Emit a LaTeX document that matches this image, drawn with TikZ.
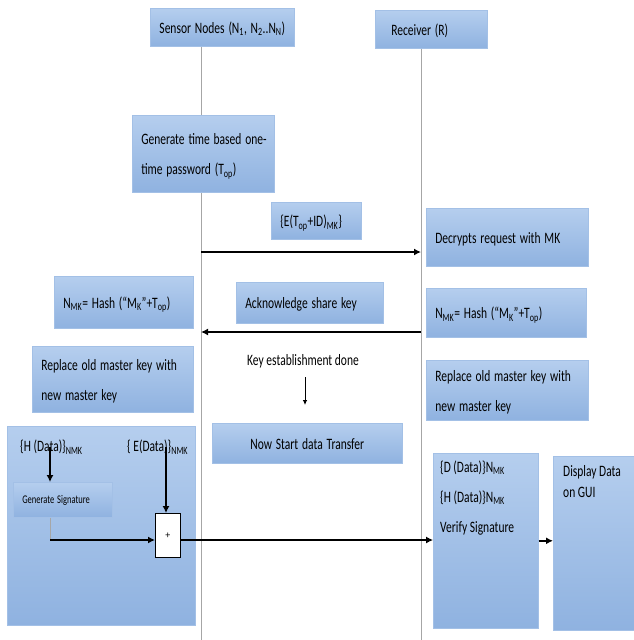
\documentclass[tikz,border=0pt]{standalone}
\usepackage{fontspec}
\setmainfont{Carlito}
\usepackage{graphicx}
\usetikzlibrary{arrows.meta}
\definecolor{boxtop}{HTML}{B5CEEE}
\definecolor{boxbot}{HTML}{8FB2E0}
\definecolor{boxedge}{HTML}{A3C0E6}
\definecolor{lifeline}{HTML}{A6A6A6}
\newcommand{\tl}[1]{\scalebox{1}[1.38]{\begin{tabular}{@{}l@{}}#1\end{tabular}}}
\tikzset{
  blk/.style={top color=boxtop, bottom color=boxbot, draw=boxedge, line width=0.6pt,
    anchor=north west, inner xsep=9pt, inner ysep=0pt, align=left,
    font=\fontsize{11.5}{21.7}\selectfont},
  txt/.style={inner sep=0pt, font=\fontsize{11.5}{21.7}\selectfont},
  msg/.style={->, line width=1.6pt},
  life/.style={draw=lifeline, line width=0.9pt},
}

\begin{document}
\begin{tikzpicture}[>={Latex[length=7pt,width=7pt]}, x=1pt, y=-1pt]
\useasboundingbox (0,0) rectangle (634,640);
% lifelines
\coordinate (snl) at (201,46);  \coordinate (snend) at (201,640);
\coordinate (rcl) at (421,48);  \coordinate (rcend) at (421,640);
\draw[life] (snl) -- (snend);
\draw[life] (rcl) -- (rcend);
% heads
\node[blk, minimum width=144pt, minimum height=38pt, text width=126pt, align=center] (sn) at (150,8)
  {\tl{Sensor Nodes (N\textsubscript{1}, N\textsubscript{2}..N\textsubscript{N})}};
\node[blk, minimum width=112pt, minimum height=38pt, text width=94pt] (rc) at (375,10)
  {\tl{\hspace{7pt}Receiver (R)}};
% key establishment
\node[blk, minimum width=142pt, minimum height=77pt, text width=124pt] (gen) at (132,115)
  {\tl{Generate time based one-\\time password (T\textsubscript{op})}};
\node[blk, minimum width=90pt, minimum height=37pt, text width=72pt] (req) at (271,202)
  {\tl{\{E(T\textsubscript{op}+ID)\textsubscript{MK}\}}};
\node[blk, minimum width=162pt, minimum height=58pt, text width=144pt] (dec) at (426,208)
  {\tl{Decrypts request with MK}};
\node[blk, minimum width=160pt, minimum height=49pt, text width=142pt] (hashr) at (426,288)
  {\tl{N\textsubscript{MK}= Hash (“M\textsubscript{K}”+T\textsubscript{op})}};
\node[blk, minimum width=162pt, minimum height=58pt, text width=144pt] (repr) at (426,360)
  {\tl{Replace old master key with\\new master key}};
\node[blk, minimum width=139pt, minimum height=52pt, text width=121pt] (hashl) at (54,276)
  {\tl{N\textsubscript{MK}= Hash (“M\textsubscript{K}”+T\textsubscript{op})}};
\node[blk, minimum width=161pt, minimum height=66pt, text width=143pt] (repl) at (32,346)
  {\tl{Replace old master key with\\new master key}};
\node[blk, minimum width=147pt, minimum height=41pt, text width=129pt] (ack) at (236,282)
  {\tl{Acknowledge share key}};
\coordinate (m1s) at (201,252); \coordinate (m1e) at (421,252);
\draw[msg] (m1s) -- (m1e);
\coordinate (m2s) at (421,332); \coordinate (m2e) at (201,332);
\draw[msg] (m2s) -- (m2e);
\node[txt] (kd) at (303,360) {\tl{Key establishment done}};
\node[blk, minimum width=190pt, minimum height=40pt, text width=172pt, align=center] (now) at (212,423)
  {\tl{Now Start data Transfer}};
\coordinate (kda) at (305,377); \coordinate (kdb) at (305,405);
\draw[-{Latex[length=5pt,width=4.5pt]}, line width=0.8pt] (kda) -- (kdb);
% data transfer, sender side
\node[blk, minimum width=188pt, minimum height=199pt] (snd) at (7,426) {};
\node[txt, anchor=west] (hd) at (20,446) {\tl{\{H (Data)\}\textsubscript{NMK}}};
\node[txt, anchor=west] (ed) at (127,446) {\tl{\{ E(Data)\}\textsubscript{NMK}}};
\node[blk, minimum width=99pt, minimum height=35pt, text width=81pt,
  font=\fontsize{8.5}{15}\selectfont] (gs) at (13,482) {\tl{Generate Signature}};
\node[draw, fill=white, line width=0.6pt, anchor=north west, minimum width=25pt,
  minimum height=44pt, inner sep=0pt, font=\fontsize{10}{12}\selectfont] (plus) at (155,513) {+};
\coordinate (hs) at (50,447); \coordinate (es) at (166,447);
\coordinate (sg) at (50,540);
\draw[->, line width=1.2pt] (hs) -- (hs |- gs.north);
\draw[->, line width=1.2pt] (es) -- (es |- plus.north);
\draw[draw=lifeline, line width=0.6pt] (hs |- gs.south) -- (sg);
\draw[msg] (sg) -- (sg -| plus.west);
% receiver side
\node[blk, minimum width=105pt, minimum height=175pt] (dbox) at (433,453) {};
\node[txt, anchor=north west] (dtx) at (440,451)
  {\tl{\{D (Data)\}N\textsubscript{MK}\\\{H (Data)\}N\textsubscript{MK}\\Verify Signature}};
\node[blk, minimum width=85pt, minimum height=174pt] (disp) at (553,456) {};
\node[txt, anchor=north west, font=\fontsize{11.5}{15.2}\selectfont] (dtx2) at (563,462)
  {\tl{Display Data\\on GUI}};
\draw[->, line width=1.1pt] (sg -| plus.east) -- (sg -| dbox.west);
\draw[->, line width=1.5pt] (dbox.east) -- (dbox.east -| disp.west);
\end{tikzpicture}
\end{document}
